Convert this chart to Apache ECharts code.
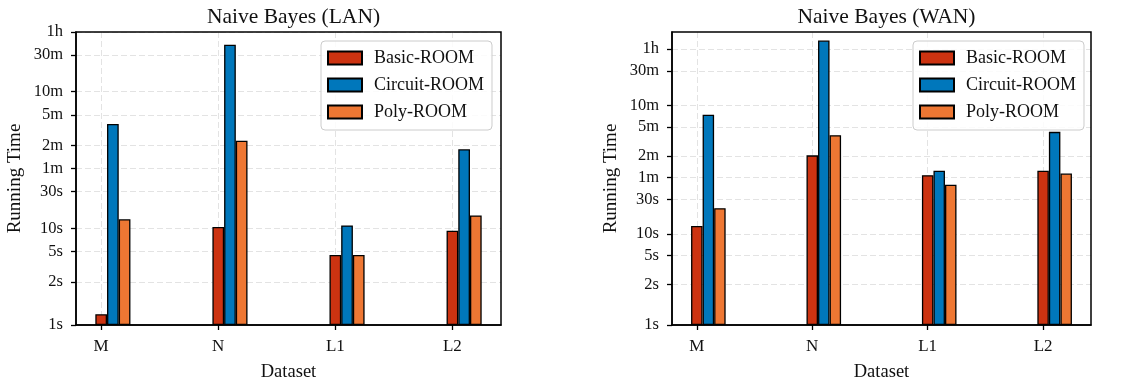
<!DOCTYPE html>
<html><head><meta charset="utf-8">
<script src="https://cdn.jsdelivr.net/npm/echarts@6/dist/echarts.min.js"></script>
<style>html,body{margin:0;padding:0;background:#fff}#c{width:1138px;height:387px}</style>
</head><body><div id="c"></div>
<script>
// ---- data (running times in seconds) ----
const categories = ['M', 'N', 'L1', 'L2'];
const seriesNames = ['Basic-ROOM', 'Circuit-ROOM', 'Poly-ROOM'];
const lanBasic   = [0.76, 10.4, 4.5, 9.3];
const lanCircuit = [228, 2460, 10.9, 107];
const lanPoly    = [13.1, 138, 4.5, 14.7];
const wanBasic   = [12.9, 122, 65, 75];
const wanCircuit = [444, 4730, 75, 258];
const wanPoly    = [22.7, 232, 48, 68.5];
const yTickValues = [0.55, 2, 5, 10, 30, 60, 120, 300, 600, 1800, 3600];
const yTickLabels = ['1s', '2s', '5s', '10s', '30s', '1m', '2m', '5m', '10m', '30m', '1h'];
const yMin = 0.55, lanYMax = 3600, wanYMax = 6200;
const titles = ['Naive Bayes (LAN)', 'Naive Bayes (WAN)'];

const colors = ['#CC3311', '#0077BB', '#EE7733'];
const FONT = '"Liberation Serif", "DejaVu Serif", serif';
const BAR_STEP = 0.1;
const t = v => Math.log10(v / yMin);

const panels = [
  { data: [lanBasic, lanCircuit, lanPoly], yMax: lanYMax, left: 76, width: 425, barW: 11.7, legendLeft: 321 },
  { data: [wanBasic, wanCircuit, wanPoly], yMax: wanYMax, left: 672, width: 419, barW: 11.5, legendLeft: 913 }
];

const option = {
  animation: false,
  backgroundColor: '#fff',
  textStyle: { fontFamily: FONT },
  title: panels.map((p, k) => ({
    text: titles[k], left: p.left + p.width / 2, top: 1, textAlign: 'center',
    textStyle: { fontFamily: FONT, fontSize: 21.5, fontWeight: 'normal', color: '#111' }
  })),
  legend: panels.map((p, k) => ({
    data: seriesNames, orient: 'vertical', left: p.legendLeft, top: 41,
    icon: 'rect', itemWidth: 34, itemHeight: 13, itemGap: 9,
    padding: [8, 8, 9, 6], borderColor: '#cccccc', borderWidth: 1, borderRadius: 4,
    backgroundColor: 'rgba(255,255,255,0.85)',
    textStyle: { fontFamily: FONT, fontSize: 18, color: '#111', padding: [0, 0, 0, 7] },
    selectedMode: false, z: 10
  })),
  grid: panels.map(p => ({
    left: p.left, top: 32, width: p.width, height: 296, show: true, z: 3,
    borderColor: '#000', borderWidth: 1.5, backgroundColor: 'transparent', containLabel: false
  })),
  xAxis: panels.map((p, k) => ({
    type: 'value', gridIndex: k, min: -0.215, max: 3.415,
    name: 'Dataset', nameLocation: 'middle', nameGap: 38,
    nameTextStyle: { fontFamily: FONT, fontSize: 18.5, color: '#111' },
    axisLine: { show: true, onZero: false, lineStyle: { color: '#000', width: 1.5 } },
    axisTick: { show: true, customValues: [0, 1, 2, 3], length: 5, lineStyle: { color: '#000', width: 1.3 } },
    axisLabel: { customValues: [0, 1, 2, 3], margin: 13, fontFamily: FONT, fontSize: 17, color: '#111',
      formatter: v => categories[Math.round(v)] },
    splitLine: { show: true, lineStyle: { color: '#e3e3e3', type: [6, 3], width: 1 } }
  })),
  yAxis: panels.map((p, k) => {
    const tv = yTickValues.filter(v => v <= p.yMax).map(t);
    return {
      type: 'value', gridIndex: k, min: 0, max: t(p.yMax),
      name: 'Running Time', nameLocation: 'middle', nameGap: 51,
      nameTextStyle: { fontFamily: FONT, fontSize: 19, color: '#111' },
      axisLine: { show: true, onZero: false, lineStyle: { color: '#000', width: 1.5 } },
      axisTick: { show: true, customValues: tv, length: 5, lineStyle: { color: '#000', width: 1.3 } },
      axisLabel: { customValues: tv, margin: 13, fontFamily: FONT, fontSize: 16.5, color: '#111',
        formatter: v => { const i = tv.findIndex(x => Math.abs(x - v) < 1e-6); return i >= 0 ? yTickLabels[i] : ''; } },
      splitLine: { show: true, lineStyle: { color: '#e3e3e3', type: [6, 3], width: 1 } }
    };
  }),
  series: []
};

panels.forEach((p, k) => {
  seriesNames.forEach((name, s) => {
    option.series.push({
      type: 'bar', name, xAxisIndex: k, yAxisIndex: k,
      barWidth: p.barW, barGap: '-100%',
      itemStyle: { color: colors[s], borderColor: '#000', borderWidth: 1.3 },
      data: p.data[s].map((v, i) => [i + BAR_STEP * s, t(v)])
    });
  });
});

const chart = echarts.init(document.getElementById('c'), null, { renderer: 'canvas' });
chart.setOption(option);
</script></body></html>
